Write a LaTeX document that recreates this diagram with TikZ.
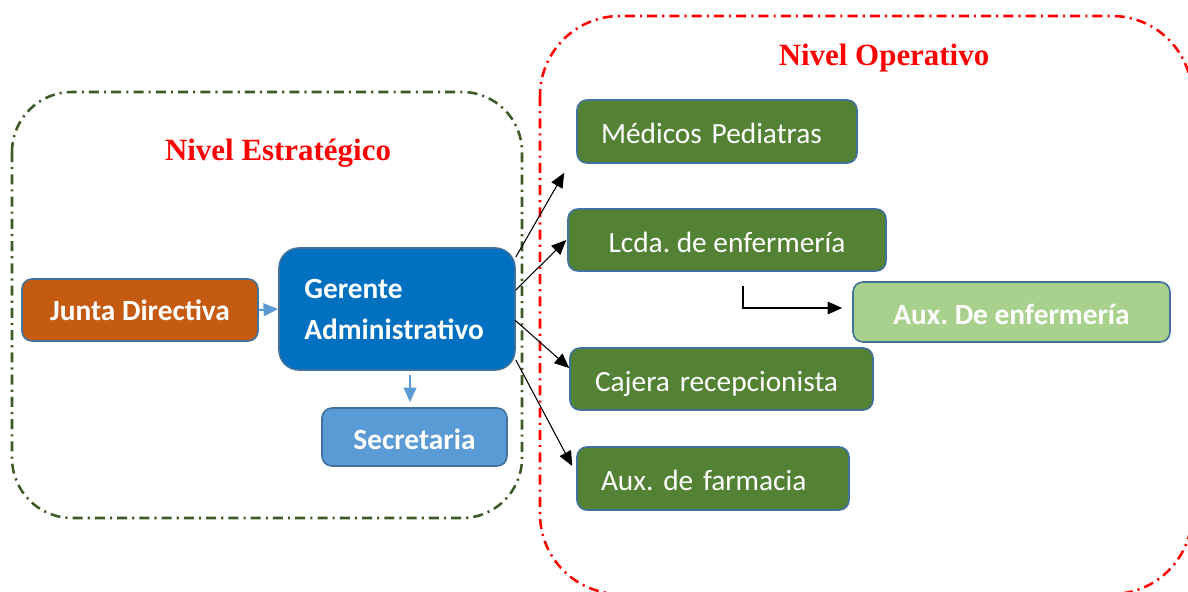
\documentclass[tikz,border=0pt]{standalone}
\usepackage{fontspec}
\setmainfont{Liberation Serif}
\setsansfont{Carlito}
\usetikzlibrary{arrows.meta,calc}
\definecolor{zgreen}{HTML}{3B5A26}
\definecolor{zred}{HTML}{FF0000}
\definecolor{bborder}{HTML}{41719C}
\definecolor{cjunta}{HTML}{C55A11}
\definecolor{cgerente}{HTML}{0070C0}
\definecolor{csecre}{HTML}{5B9BD5}
\definecolor{cgreen}{HTML}{548235}
\definecolor{clight}{HTML}{A9D18E}
\frenchspacing
\begin{document}
\begin{tikzpicture}[x=0.75pt,y=-0.75pt,
  zone/.style={line width=1.9pt, rounded corners=#1, dash pattern=on 7.5pt off 3.8pt on 1.6pt off 3.8pt},
  box/.style={draw=bborder, line width=1.2pt, rounded corners=7.5pt, text=white, inner ysep=0pt,
    font=\sffamily\frenchspacing\fontsize{22}{26}\selectfont},
  boldbox/.style={box, font=\sffamily\bfseries\frenchspacing\fontsize{22}{26}\selectfont},
  low/.style={text height=23pt, text depth=4.4pt},
  title/.style={text=zred, font=\rmfamily\bfseries\fontsize{23.2}{27}\selectfont},
  blk/.style={black, line width=0.8pt, -{Triangle[length=11pt,width=9.5pt]}},
  blu/.style={csecre, line width=1.5pt, -{Triangle[length=11pt,width=9.5pt]}}
]
\useasboundingbox (0,0) rectangle (1188,592);
\begin{scope}
\clip (0,0) rectangle (1188,592);
\draw[zone=60pt, zred] (540,16) rectangle (1192,594);
\end{scope}
\draw[zone=45pt, zgreen] (12,92) rectangle (522,518);

\node[title] (tE) at (278,153) {Nivel Estratégico};
\node[title] (tO) at (884,58) {Nivel Operativo};

\node[boldbox, fill=cjunta, minimum width=177pt, minimum height=46.5pt] (junta) at (140,310) {Junta Directiva};
\node[boldbox, fill=cgerente, rounded corners=15pt, minimum height=91.5pt, inner xsep=19pt, text width=139pt, align=left,
  font=\sffamily\bfseries\fontsize{22}{30.75}\selectfont] (gerente) at (397,309) {Gerente\\Administrativo};
\node[boldbox, low, fill=csecre, minimum width=138.75pt, minimum height=43.5pt] (secretaria) at (414.5,437) {Secretaria};

\node[box, low, fill=cgreen, minimum height=47.25pt, inner xsep=18pt, text width=174pt, align=left] (medicos) at (717,131.5) {Médicos Pediatras};
\node[box, low, fill=cgreen, minimum width=238.5pt, minimum height=46.5pt] (lcda) at (727,240) {Lcda. de enfermería};
\node[boldbox, low, fill=clight, minimum width=237.75pt, minimum height=45pt] (auxenf) at (1011.5,312) {Aux. De enfermería};
\node[box, low, fill=cgreen, minimum height=46.5pt, inner xsep=18.75pt, text width=189.75pt, align=left] (cajera) at (721.5,379) {Cajera recepcionista};
\node[box, low, fill=cgreen, minimum height=47.25pt, inner xsep=18pt, text width=168pt, align=left] (farmacia) at (713,478.5) {Aux. de farmacia};

\draw[blu] (junta.east) -- (gerente.west);
\draw[blu] ($(gerente.south)+(13,4)$) -- ($(secretaria.north)+(-4.5,-5)$);

\draw[blk] ($(gerente.east)+(0,-52)$) -- ($(medicos.south west)+(-12,9)$);
\draw[blk] ($(gerente.east)+(0,-19)$) -- ($(lcda.west)+(-1,0)$);
\draw[blk] ($(gerente.east)+(-1,11)$) -- ($(cajera.west)+(0,-11)$);
\draw[blk] ($(gerente.east)+(0,51)$) -- ($(farmacia.west)+(-4,-12.5)$);
\draw[blk] ($(lcda.south)+(16,14)$) |- ($(auxenf.west)+(-10,-4)$);
\end{tikzpicture}
\end{document}
